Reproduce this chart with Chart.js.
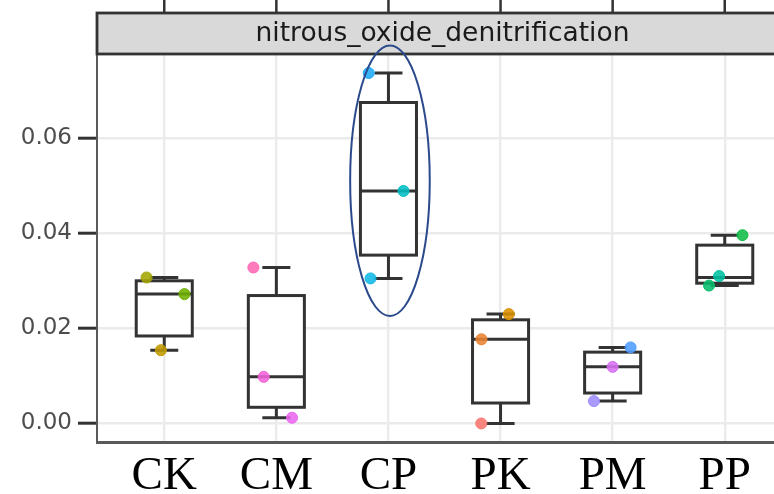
<!DOCTYPE html>
<html>
<head>
<meta charset="utf-8">
<script src="https://cdn.jsdelivr.net/npm/chart.js@4/dist/chart.umd.min.js"></script>
<style>
  html, body { margin: 0; padding: 0; overflow: hidden; background: #ffffff; width: 774px; height: 494px; }
  canvas { display: block; }
</style>
</head>
<body>
<canvas id="chart" width="800" height="494" style="width:800px;height:494px"></canvas>
<script>
// Treatments along the x axis
const categories = ['CK', 'CM', 'CP', 'PK', 'PM', 'PP'];

// Box statistics per treatment
const boxMin    = [0.0154, 0.0012, 0.0305, 0.0000, 0.0047, 0.0290];
const boxQ1     = [0.0184, 0.0034, 0.0354, 0.0043, 0.0064, 0.0295];
const boxMedian = [0.0272, 0.0098, 0.0489, 0.0177, 0.0119, 0.0307];
const boxQ3     = [0.0300, 0.0269, 0.0675, 0.0218, 0.0150, 0.0375];
const boxMax    = [0.0307, 0.0328, 0.0737, 0.0230, 0.0160, 0.0396];

// Individual samples (three per treatment)
const sampleValues = [
  [0.0307, 0.0272, 0.0154],
  [0.0328, 0.0098, 0.0012],
  [0.0737, 0.0489, 0.0305],
  [0.0230, 0.0177, 0.0000],
  [0.0160, 0.0119, 0.0047],
  [0.0396, 0.0310, 0.0290]
];
// Horizontal jitter of each sample, in category units
const sampleJitter = [
  [-0.158, 0.180, -0.030],
  [-0.205, -0.113, 0.140],
  [-0.176, 0.134, -0.160],
  [0.074, -0.170, -0.172],
  [0.160, 0.000, -0.167],
  [0.158, -0.050, -0.140]
];
const sampleColors = [
  ['#A3A500', '#6FB000', '#C09B00'],
  ['#FF66B4', '#F462DA', '#EC68F0'],
  ['#1FAAF8', '#00BFC4', '#10B8E6'],
  ['#D89000', '#EA8331', '#F8766D'],
  ['#4F9DFF', '#D870F4', '#9C8CFF'],
  ['#12BD48', '#00C1A3', '#06BD6C']
];

const yTicks = [0, 0.02, 0.04, 0.06];
const panelTitle = 'nitrous_oxide_denitrification';

// Highlighted treatment and the value range its outline spans
const highlightIndex = 2;
const highlightLow = 0.0226;
const highlightHigh = 0.0795;

const BOX_WIDTH = 0.5;
const INK = '#333333';

const boxPlugin = {
  id: 'boxes',
  beforeDatasetsDraw(chart) {
    const { ctx, scales: { x, y } } = chart;
    ctx.save();
    ctx.strokeStyle = INK;
    ctx.lineWidth = 3;
    ctx.lineCap = 'butt';
    categories.forEach((c, i) => {
      const cx = x.getPixelForValue(i);
      const hw = x.getPixelForValue(i + BOX_WIDTH / 2) - cx;
      const cw = hw / 2;
      const pMin = y.getPixelForValue(boxMin[i]);
      const pQ1 = y.getPixelForValue(boxQ1[i]);
      const pMed = y.getPixelForValue(boxMedian[i]);
      const pQ3 = y.getPixelForValue(boxQ3[i]);
      const pMax = y.getPixelForValue(boxMax[i]);
      ctx.beginPath();
      ctx.moveTo(cx, pQ3); ctx.lineTo(cx, pMax);
      ctx.moveTo(cx - cw, pMax); ctx.lineTo(cx + cw, pMax);
      ctx.moveTo(cx, pQ1); ctx.lineTo(cx, pMin);
      ctx.moveTo(cx - cw, pMin); ctx.lineTo(cx + cw, pMin);
      ctx.stroke();
      ctx.fillStyle = '#ffffff';
      ctx.fillRect(cx - hw, pQ3, 2 * hw, pQ1 - pQ3);
      ctx.strokeRect(cx - hw, pQ3, 2 * hw, pQ1 - pQ3);
      ctx.beginPath();
      ctx.moveTo(cx - hw, pMed); ctx.lineTo(cx + hw, pMed);
      ctx.stroke();
    });
    ctx.restore();
  }
};

const stripPlugin = {
  id: 'strip',
  afterDraw(chart) {
    const { ctx, chartArea: area, scales: { x, y } } = chart;
    ctx.save();
    // ticks of the panel above
    ctx.strokeStyle = INK;
    ctx.lineWidth = 2.5;
    ctx.beginPath();
    categories.forEach((c, i) => {
      const px = x.getPixelForValue(i);
      ctx.moveTo(px, 0); ctx.lineTo(px, 13);
    });
    ctx.stroke();
    // facet strip
    const top = 13, bottom = area.top;
    ctx.fillStyle = '#d9d9d9';
    ctx.fillRect(area.left, top, chart.width - area.left + 4, bottom - top);
    ctx.strokeStyle = INK;
    ctx.lineWidth = 2.8;
    ctx.strokeRect(area.left, top, chart.width - area.left + 4, bottom - top);
    ctx.fillStyle = '#1a1a1a';
    ctx.font = '26.5px "DejaVu Sans"';
    ctx.textAlign = 'center';
    ctx.textBaseline = 'middle';
    ctx.fillText(panelTitle, (area.left + area.right) / 2 - 2, (top + bottom) / 2 + 1);
    // outline around the highlighted treatment
    const cx = x.getPixelForValue(highlightIndex);
    const rx = x.getPixelForValue(highlightIndex + 0.355) - cx;
    const yTop = y.getPixelForValue(highlightHigh);
    const yBot = y.getPixelForValue(highlightLow);
    ctx.strokeStyle = '#2b4a8c';
    ctx.lineWidth = 2;
    ctx.beginPath();
    ctx.ellipse(cx + 1.5, (yTop + yBot) / 2, rx, (yBot - yTop) / 2, 0, 0, Math.PI * 2);
    ctx.stroke();
    ctx.restore();
  }
};

const datasets = categories.map((c, i) => ({
  label: c,
  data: sampleValues[i].map((v, k) => ({ x: i + sampleJitter[i][k], y: v })),
  pointBackgroundColor: sampleColors[i].map(col => col + 'E0'),
  pointBorderColor: sampleColors[i],
  pointBorderWidth: 1,
  pointRadius: 5.5,
  pointHoverRadius: 5.5,
  showLine: false
}));

new Chart(document.getElementById('chart'), {
  type: 'scatter',
  data: { datasets },
  plugins: [boxPlugin, stripPlugin],
  options: {
    responsive: false,
    animation: false,
    devicePixelRatio: 1,
    layout: { padding: { top: 54, right: 8, left: 0, bottom: 0 } },
    plugins: { legend: { display: false }, tooltip: { enabled: false } },
    scales: {
      x: {
        type: 'linear',
        min: -0.6,
        max: 5.6,
        afterFit: s => { s.height = 52; },
        afterBuildTicks: s => { s.ticks = categories.map((c, i) => ({ value: i })); },
        ticks: {
          callback: v => categories[Math.round(v)],
          color: '#000000',
          font: { family: '"Liberation Serif", "Times New Roman", serif', size: 47 },
          padding: 6,
          maxRotation: 0,
          autoSkip: false
        },
        grid: { color: '#ebebeb', lineWidth: 2.4, drawTicks: false },
        border: { display: true, color: '#5a5a5a', width: 3 }
      },
      y: {
        min: -0.0039,
        max: 0.0777,
        afterFit: s => { s.width = 97; },
        afterBuildTicks: s => { s.ticks = yTicks.map(v => ({ value: v })); },
        ticks: {
          callback: v => v.toFixed(2),
          color: '#4d4d4d',
          font: { family: '"DejaVu Sans"', size: 23 },
          padding: 6
        },
        grid: { color: '#ebebeb', lineWidth: 2.4, drawTicks: true, tickLength: 19, tickColor: INK, tickWidth: 3 },
        border: { display: true, color: '#5a5a5a', width: 2 }
      }
    }
  }
});
</script>
</body>
</html>
